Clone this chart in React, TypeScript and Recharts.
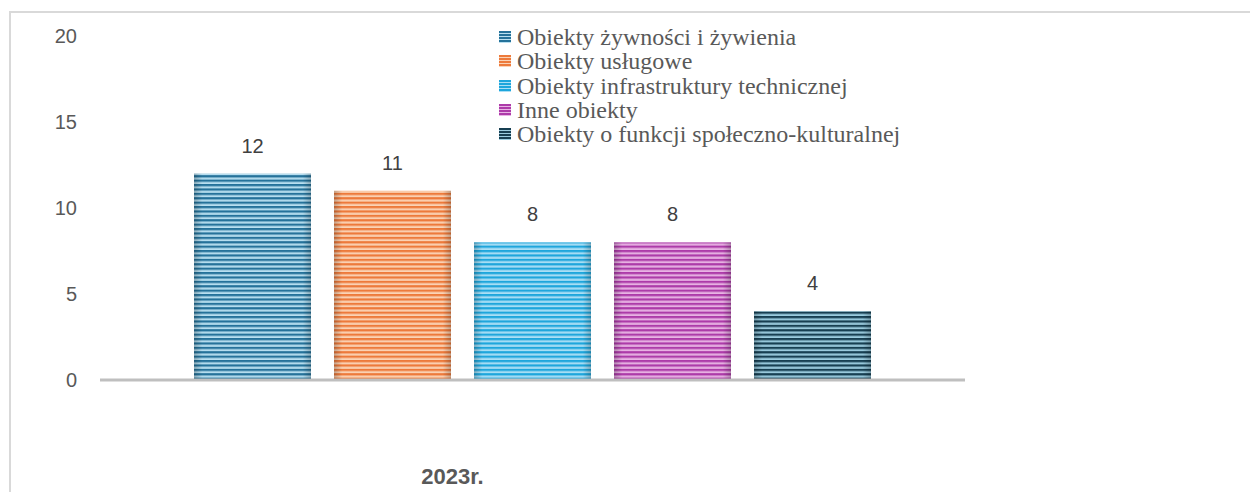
import { BarChart, Bar, XAxis, YAxis, LabelList } from 'recharts'

const categories = ['2023r.']
const seriesKeys = ['zywnosc', 'uslugowe', 'infra', 'inne', 'spoleczne']
const seriesNames = [
  'Obiekty żywności i żywienia',
  'Obiekty usługowe',
  'Obiekty infrastruktury technicznej',
  'Inne obiekty',
  'Obiekty o funkcji społeczno-kulturalnej',
]
const seriesValues = [[12], [11], [8], [8], [4]]
const yTicks = [0, 5, 10, 15, 20]

// stripe colours: [dark, light]
const stripeColors = [
  ['#25729a', '#b9e0f1'],
  ['#ed7a3b', '#fbd3b6'],
  ['#1ea6dc', '#abdff5'],
  ['#ad3ba9', '#e8b4e4'],
  ['#173f52', '#9ccde0'],
]

const data = categories.map((name, i) => {
  const row: Record<string, string | number> = { name }
  seriesKeys.forEach((k, j) => { row[k] = seriesValues[j][i] })
  return row
})

const StripedBar = (idx: number) => (props: any) => {
  const { x, y, width, height } = props
  if (!height || height <= 0) return null
  return (
    <g>
      <rect x={x} y={y} width={width} height={height} fill={`url(#stripe-${idx})`} />
      <rect x={x} y={y} width={width} height={height} fill="url(#edgeShade)" />
    </g>
  )
}

const CategoryTick = (props: any) => {
  const { x, y, payload } = props
  return (
    <text x={x - 80} y={y + 96} textAnchor="middle" fontSize={22} fontWeight="bold" fill="#595959">
      {payload.value}
    </text>
  )
}

export default function App() {
  return (
    <div style={{ position: 'relative', width: 1250, height: 484, overflow: 'hidden', fontFamily: '"Liberation Sans", Arial, sans-serif' }}>
      <div
        style={{
          position: 'absolute', left: 1, top: 3, width: 1300, height: 600,
          borderTop: '2px solid #d9d9d9', borderLeft: '2px solid #d9d9d9',
        }}
      />
      <div style={{ position: 'absolute', left: 0, top: 0 }}>
        <BarChart
          width={1250}
          height={484}
          data={data}
          margin={{ top: 28, right: 293, left: 32, bottom: 0 }}
          barSize={117}
          barGap={23}
        >
          <defs>
            {stripeColors.map(([dark, light], i) => (
              <pattern key={i} id={`stripe-${i}`} patternUnits="userSpaceOnUse" width={8} height={4.4}>
                <rect x={0} y={0} width={8} height={4.4} fill={light} />
                <rect x={0} y={0} width={8} height={2} fill={dark} />
                <rect x={0} y={2} width={8} height={0.8} fill={dark} opacity={0.45} />
              </pattern>
            ))}
            <linearGradient id="edgeShade" x1="0" y1="0" x2="1" y2="0">
              <stop offset="0" stopColor="#000" stopOpacity={0.22} />
              <stop offset="0.07" stopColor="#000" stopOpacity={0} />
              <stop offset="0.93" stopColor="#000" stopOpacity={0} />
              <stop offset="1" stopColor="#000" stopOpacity={0.22} />
            </linearGradient>
          </defs>
          <XAxis
            dataKey="name"
            height={112}
            axisLine={{ stroke: '#bfbfbf', strokeWidth: 3 }}
            tickLine={false}
            tick={<CategoryTick />}
          />
          <YAxis
            width={60}
            domain={[0, 20]}
            ticks={yTicks}
            axisLine={false}
            tickLine={false}
            tickSize={0}
            tickMargin={23}
            tick={{ fontSize: 20, fill: '#595959' }}
          />
          {seriesKeys.map((k, i) => (
            <Bar key={k} dataKey={k} name={seriesNames[i]} shape={StripedBar(i)} isAnimationActive={false}>
              <LabelList dataKey={k} position="top" offset={21} fontSize={20} fill="#404040" />
            </Bar>
          ))}
        </BarChart>
      </div>
      <div
        style={{
          position: 'absolute', left: 491, top: 17,
          fontFamily: '"Liberation Serif", "Times New Roman", serif',
          fontSize: 24, lineHeight: '24.3px', color: '#595959', whiteSpace: 'nowrap',
        }}
      >
        {seriesNames.map((n, i) => (
          <div key={n} style={{ display: 'flex', alignItems: 'center', height: 24.3 }}>
            <span
              style={{
                display: 'inline-block', width: 12, height: 12, marginRight: 6,
                background: `repeating-linear-gradient(to bottom, ${stripeColors[i][0]} 0px, ${stripeColors[i][0]} 2px, ${stripeColors[i][1]} 2px, ${stripeColors[i][1]} 3px)`,
              }}
            />
            <span>{n}</span>
          </div>
        ))}
      </div>
    </div>
  )
}
